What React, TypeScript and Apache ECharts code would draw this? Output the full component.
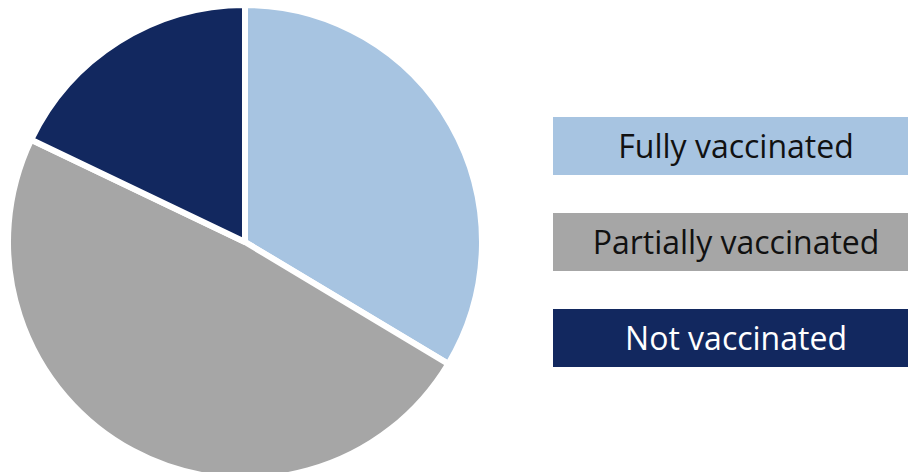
import React, { useEffect, useRef } from "react";
import * as echarts from "echarts";

const categories = ["Fully vaccinated", "Partially vaccinated", "Not vaccinated"];
const values = [33.6, 48.5, 17.9];
const colors = ["#a7c4e1", "#a6a6a6", "#12285f"];
const textColors = ["#111111", "#111111", "#ffffff"];

export default function App() {
  const ref = useRef<HTMLDivElement>(null);
  useEffect(() => {
    if (!ref.current) return;
    const chart = echarts.init(ref.current, undefined, { renderer: "svg" });
    const legendGraphics: any[] = [];
    categories.forEach((c, i) => {
      const top = 117 + i * 96;
      legendGraphics.push({
        type: "rect",
        shape: { x: 553, y: top, width: 366, height: 58 },
        style: { fill: colors[i] },
      });
      legendGraphics.push({
        type: "text",
        x: 736,
        y: top + 28,
        style: {
          text: c,
          fill: textColors[i],
          font: '32px "Open Sans"',
          align: "center",
          verticalAlign: "middle",
        },
      });
    });
    chart.setOption({
      animation: false,
      backgroundColor: "#ffffff",
      graphic: legendGraphics,
      series: [
        {
          type: "pie",
          center: [245, 242],
          radius: 237,
          startAngle: 90,
          clockwise: true,
          label: { show: false },
          labelLine: { show: false },
          emphasis: { disabled: true },
          itemStyle: { borderColor: "#ffffff", borderWidth: 6 },
          data: categories.map((c, i) => ({
            name: c,
            value: values[i],
            itemStyle: { color: colors[i] },
          })),
        },
      ],
    });
    return () => chart.dispose();
  }, []);
  return (
    <div
      ref={ref}
      style={{ position: "fixed", left: 0, top: 0, width: 908, height: 472 }}
    />
  );
}
